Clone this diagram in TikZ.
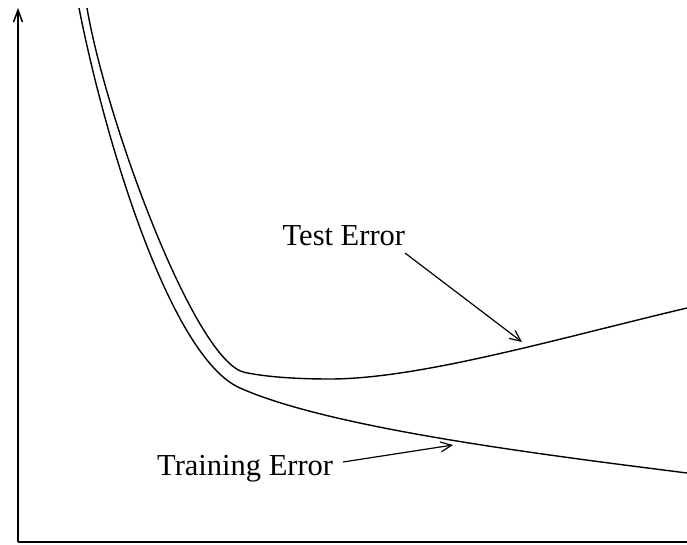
\documentclass[tikz,border=0pt]{standalone}
\usepackage{fontspec}
\setmainfont{Liberation Serif}
\usetikzlibrary{arrows.meta}
\begin{document}
\begin{tikzpicture}[x=1pt,y=-1pt,
  axis/.style={line width=1.7pt},
  curve/.style={line width=1.4pt, line join=round},
  pointer/.style={line width=1.2pt, -{Straight Barb[length=11pt,width=10pt,line width=1.2pt]}},
  lbl/.style={anchor=base west, inner sep=0pt, font=\fontsize{30.5}{36}\selectfont}]
  \useasboundingbox (0,0) rectangle (687,545);

  % axes
  \coordinate (origin) at (18,542);
  \coordinate (ytop) at (18,8);
  \coordinate (xend) at (687,542);
  \draw[axis, -{Straight Barb[length=12pt,width=9pt,line width=1.5pt]}] (origin) -- (ytop);
  \draw[axis] (origin) -- (xend);

  % training error curve
  \draw[curve] (79,8) .. controls (105,140) and (170,357) .. (240,388)
                      .. controls (330,428) and (537,454) .. (687,473);

  % test error curve
  \draw[curve] (87,8) .. controls (106,120) and (195,362.5) .. (245,372.5)
                      .. controls (270,377.5) and (300,379) .. (330,379)
                      .. controls (420,379) and (560,338) .. (687,308);

  % labels and pointers
  \node[lbl] (test) at (282.5,245.7) {Test Error};
  \node[lbl] (train) at (157,475) {Training Error};
  \coordinate (testfrom) at (405,253);
  \coordinate (testto) at (522,342);
  \coordinate (trainfrom) at (343,462);
  \coordinate (trainto) at (453,445);
  \draw[pointer] (testfrom) -- (testto);
  \draw[pointer] (trainfrom) -- (trainto);
\end{tikzpicture}
\end{document}
